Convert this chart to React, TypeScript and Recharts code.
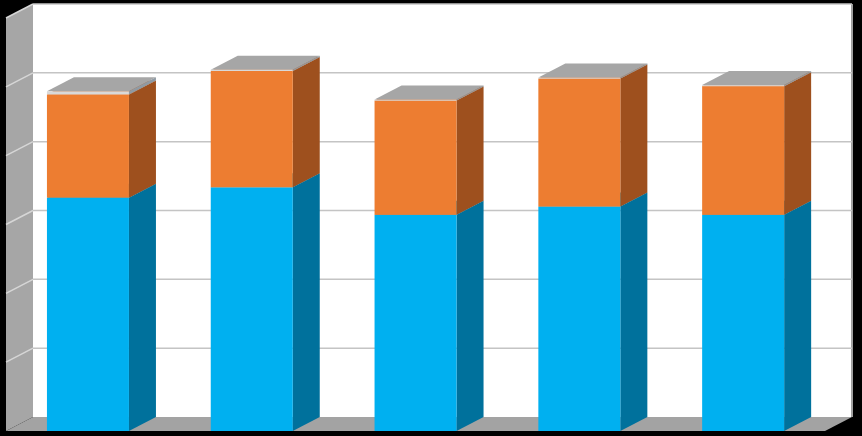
import { Bar, BarChart, ReferenceArea, XAxis, YAxis } from "recharts";

const categories = ["1", "2", "3", "4", "5"];
const seriesA = [33.9, 35.4, 31.4, 32.6, 31.4];
const seriesB = [15.0, 16.9, 16.6, 18.6, 18.7];
const seriesC = [0.45, 0.2, 0.15, 0.15, 0.15];
const yTicks = [0, 10, 20, 30, 40, 50, 60];

const data = categories.map((c, i) => ({ name: c, a: seriesA[i], b: seriesB[i], c: seriesC[i] }));

// depth offset of the fake 3d box
const DX = 27;
const DY = 14;

function box(front: string, side: string, top: string) {
  return (props: any) => {
    const { x, y, width, height } = props;
    if (x == null || y == null || !width) return <g />;
    const h = Math.max(height || 0, 0);
    const r = x + width;
    return (
      <g>
        <polygon points={`${x},${y} ${r},${y} ${r + DX},${y - DY} ${x + DX},${y - DY}`} fill={top} />
        <polygon points={`${r},${y} ${r + DX},${y - DY} ${r + DX},${y + h - DY} ${r},${y + h}`} fill={side} />
        <rect x={x} y={y} width={width} height={h} fill={front} />
      </g>
    );
  };
}

function Walls(props: any) {
  const { x, y, width, height } = props;
  const r = x + width;
  const b = y + height;
  return (
    <g>
      <rect x={x + DX} y={y - DY} width={width} height={height} fill="#ffffff" />
      <polygon points={`${x},${y} ${x + DX},${y - DY} ${x + DX},${b - DY} ${x},${b}`} fill="#a6a6a6" />
      <polygon points={`${x},${b} ${x + DX},${b - DY} ${r + DX},${b - DY} ${r},${b}`} fill="#a3a3a3" />
      <line x1={r + DX} y1={y - DY} x2={r + DX} y2={b - DY} stroke="#a0a0a0" strokeWidth={2} />
    </g>
  );
}

// a gridline sits at the top edge of an area that runs from 0 up to the tick
function GridLine(props: any) {
  const { x, y, width } = props;
  if (x == null || y == null) return <g />;
  return (
    <g>
      <line x1={x + DX} y1={y - DY} x2={x + width + DX} y2={y - DY} stroke="#c4c4c4" strokeWidth={1.5} />
      <line x1={x} y1={y} x2={x + DX} y2={y - DY} stroke="#d6d6d6" strokeWidth={1.5} />
    </g>
  );
}

export default function App() {
  return (
    <div style={{ width: 862, height: 436, background: "#000000" }}>
      <style>{`body{margin:0}`}</style>
      <BarChart
        width={862}
        height={436}
        data={data}
        margin={{ top: 18, right: 37, left: 6, bottom: 5 }}
        barCategoryGap="25%"
      >
        <ReferenceArea y1={0} y2={60} ifOverflow="visible" shape={Walls} />
        {yTicks.slice(1).map((t) => (
          <ReferenceArea key={t} y1={0} y2={t} ifOverflow="visible" shape={GridLine} />
        ))}
        <XAxis dataKey="name" hide />
        <YAxis domain={[0, 60]} ticks={yTicks} hide />
        <Bar dataKey="a" stackId="s" isAnimationActive={false} shape={box("#00b0f0", "#00719c", "#0090c4")} />
        <Bar dataKey="b" stackId="s" isAnimationActive={false} shape={box("#ed7d31", "#9e501e", "#c46628")} />
        <Bar dataKey="c" stackId="s" isAnimationActive={false} shape={box("#d9d9d9", "#8f9aa3", "#a6a6a6")} />
      </BarChart>
    </div>
  );
}
